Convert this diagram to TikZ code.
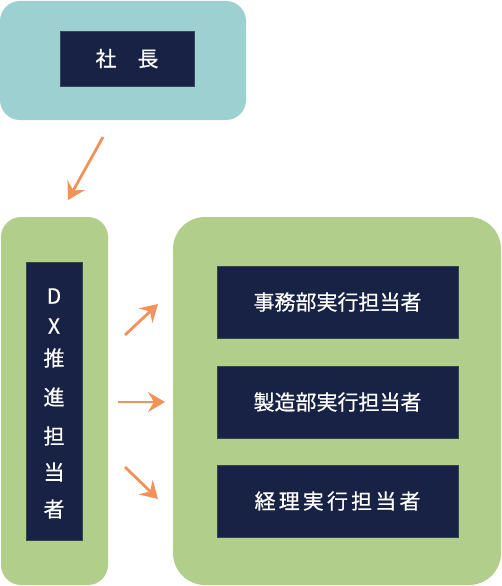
\documentclass[tikz,border=0pt]{standalone}
\usepackage{fontspec}
\setmainfont{Noto Sans CJK JP}[FakeBold=0.5]
\usetikzlibrary{arrows.meta}
\definecolor{teal}{HTML}{9DD0D0}
\definecolor{grn}{HTML}{B1CF8A}
\definecolor{navy}{HTML}{182245}
\definecolor{orng}{HTML}{F0925A}
\tikzset{
  navybox/.style={fill=navy, draw=navy!80!grn, line width=0.6pt, inner sep=0pt, text=white, font=\fontsize{21}{21}\selectfont},
  dxchar/.style={text=white, font=\fontsize{21}{21}\selectfont, inner sep=0pt},
  flow/.style={draw=orng, line width=2.8pt, -{Stealth[length=17pt,width=20pt,inset=6pt]}},
}
\begin{document}
\begin{tikzpicture}[x=1pt,y=-1pt]
\useasboundingbox (0,0) rectangle (502,586);
\fill[teal, rounded corners=20pt] (0,1) rectangle (246,120);
\fill[grn, rounded corners=20pt] (1,217) rectangle (108,585);
\fill[grn, rounded corners=32pt] (173,217) rectangle (501,585);
\node[navybox, minimum width=134pt, minimum height=55pt] (ceo) at (127,58.5) {社\hspace{1.0em}長};
\node[navybox, minimum width=56pt, minimum height=278pt] (dx) at (54,401) {};
\foreach \t/\y in {D/296,X/326,推/358,進/397,担/436,当/472,者/509}
  \node[dxchar] at (54,\y) {\t};
\node[navybox, minimum width=241pt, minimum height=72pt] (b1) at (337.5,302) {事務部実行担当者};
\node[navybox, minimum width=241pt, minimum height=72pt] (b2) at (337.5,402) {製造部実行担当者};
\node[navybox, minimum width=241pt, minimum height=72pt] (b3) at (337.5,501) {経\hspace{0.15em}理\hspace{0.15em}実\hspace{0.15em}行\hspace{0.15em}担\hspace{0.15em}当\hspace{0.15em}者};
\coordinate (a1s) at (103,137); \coordinate (a1e) at (68,200);
\coordinate (a2s) at (125,335); \coordinate (a2e) at (158,304);
\coordinate (a3s) at (118,402); \coordinate (a3e) at (165,402);
\coordinate (a4s) at (125,467); \coordinate (a4e) at (158,499);
\draw[flow] (a1s) -- (a1e);
\draw[flow] (a2s) -- (a2e);
\draw[flow] (a3s) -- (a3e);
\draw[flow] (a4s) -- (a4e);
\end{tikzpicture}
\end{document}
